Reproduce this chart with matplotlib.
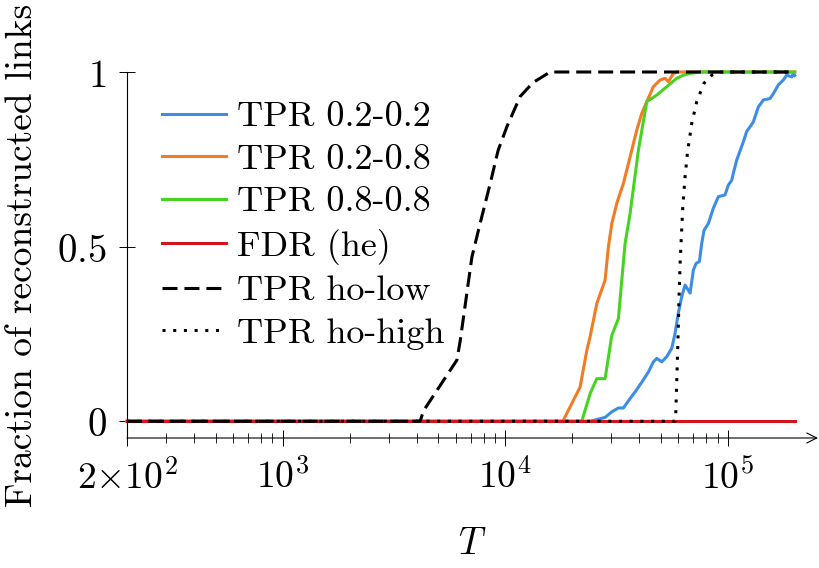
import matplotlib
matplotlib.use("Agg")
import matplotlib.pyplot as plt
from matplotlib.font_manager import FontProperties
from matplotlib.ticker import FixedLocator, NullFormatter

plt.rcParams['mathtext.fontset'] = 'cm'
plt.rcParams['axes.unicode_minus'] = False
plt.rcParams['axes.formatter.use_mathtext'] = True
plt.rcParams['lines.scale_dashes'] = False

# ---------------- data ----------------
t_blue = [200, 24080, 28120, 30140, 32270, 33980, 36420, 38350, 41110, 44010, 46330,
          47990, 50530, 53210, 56040, 57990, 59990, 62140, 64310, 67730, 70080, 72070,
          74560, 76430, 78260, 81810, 86160, 90740, 97250, 100600, 104200, 105950,
          109740, 117500, 121700, 125900, 130300, 132660, 137260, 144550, 154900,
          160300, 168720, 177700, 184000, 193900, 197000, 200000]
v_blue = [0, 0, 0.011, 0.027, 0.038, 0.038, 0.065, 0.084, 0.112, 0.141, 0.17,
          0.18, 0.17, 0.185, 0.209, 0.252, 0.31, 0.357, 0.39, 0.367, 0.433, 0.452,
          0.457, 0.51, 0.547, 0.566, 0.61, 0.643, 0.648, 0.676, 0.69, 0.71,
          0.748, 0.8, 0.83, 0.843, 0.857, 0.872, 0.9, 0.92, 0.924,
          0.938, 0.963, 0.977, 0.991, 0.986, 0.995, 0.99]

t_orange = [200, 18160, 19580, 21710, 23280, 24080, 25810, 28120, 29100, 30140, 31740,
            33980, 36420, 39030, 41110, 43280, 46330, 49660, 52290, 54100, 56980,
            59020, 200000]
v_orange = [0, 0, 0.041, 0.098, 0.203, 0.242, 0.337, 0.404, 0.5, 0.566, 0.624,
            0.681, 0.757, 0.834, 0.882, 0.915, 0.958, 0.977, 0.982, 0.972, 0.996,
            1.0, 1.0]

t_green = [200, 22100, 24080, 25810, 28120, 30140, 32270, 33420, 34580, 36420, 39680,
           43280, 47990, 53210, 59020, 63190, 67730, 75090, 200000]
v_green = [0, 0, 0.079, 0.122, 0.122, 0.246, 0.294, 0.404, 0.509, 0.595, 0.776,
           0.915, 0.934, 0.958, 0.982, 0.991, 0.996, 1.0, 1.0]

t_fdr = [200, 200000]
v_fdr = [0, 0]

t_low = [200, 4150, 4297, 6070, 6280, 7088, 7722, 8562, 9302, 10176, 11680, 13360,
         15925, 200000]
v_low = [0, 0, 0.03, 0.175, 0.23, 0.47, 0.567, 0.68, 0.776, 0.843, 0.93, 0.97,
         1.0, 1.0]

t_high = [200, 57990, 58420, 59020, 59640, 60430, 61080, 62810, 64310, 65860, 68920,
          72570, 78260, 84760, 92350, 200000]
v_high = [0, 0, 0.022, 0.117, 0.213, 0.356, 0.452, 0.614, 0.70, 0.767, 0.853,
          0.915, 0.968, 0.991, 1.0, 1.0]

labels = ["TPR 0.2-0.2", "TPR 0.2-0.8", "TPR 0.8-0.8", "FDR (he)",
          "TPR ho-low", "TPR ho-high"]
xtick_vals = [200, 1e3, 1e4, 1e5]
xtick_labels = [r"$2{\times}10^{2}$", r"$10^{3}$", r"$10^{4}$", r"$10^{5}$"]
xminor_vals = [300, 400, 500, 600, 700, 800, 900,
               2000, 3000, 4000, 5000, 6000, 7000, 8000, 9000,
               20000, 30000, 40000, 50000, 60000, 70000, 80000, 90000]
ytick_vals = [0, 0.5, 1]
ytick_labels = [r"$0$", r"$0.5$", r"$1$"]

# ---------------- figure ----------------
fig = plt.figure(figsize=(8.2, 5.68), dpi=100)
ax = fig.add_axes([127/820, 130/568, 691/820, 366/568])

lw = 2.2
ax.plot(t_blue, v_blue, color='#3d8de6', lw=lw, label=labels[0], clip_on=False)
ax.plot(t_orange, v_orange, color='#f27b23', lw=lw, label=labels[1], clip_on=False)
ax.plot(t_green, v_green, color='#47d420', lw=lw, label=labels[2], clip_on=False)
ax.plot(t_fdr, v_fdr, color='#d2151b', lw=lw, label=labels[3], clip_on=False)
ax.plot(t_low, v_low, color='black', lw=lw, dashes=(10.8, 5.0),
        dash_capstyle='butt', label=labels[4], clip_on=False)
ax.plot(t_high, v_high, color='black', lw=lw, dashes=(2.2, 5.5),
        dash_capstyle='butt', label=labels[5], clip_on=False)

ax.set_xscale('log')
ax.set_xlim(200, 254400)
ax.set_ylim(-0.048, 1.0)

ax.xaxis.set_major_locator(FixedLocator(xtick_vals))
ax.set_xticklabels(xtick_labels)
ax.xaxis.set_minor_locator(FixedLocator(xminor_vals))
ax.xaxis.set_minor_formatter(NullFormatter())
ax.set_yticks(ytick_vals)
ax.set_yticklabels(ytick_labels)

ax.tick_params(axis='x', which='major', direction='inout', length=11, width=0.7,
               labelsize=27, pad=10)
ax.tick_params(axis='x', which='minor', direction='inout', length=7.5, width=0.6)
ax.tick_params(axis='y', which='major', direction='inout', length=11, width=0.7,
               labelsize=28, pad=9)

for s in ['top', 'right', 'bottom']:
    ax.spines[s].set_visible(False)
ax.spines['left'].set_linewidth(0.8)
ax.annotate('', xy=(1.0, 0), xycoords='axes fraction', xytext=(0, 0),
            textcoords='axes fraction',
            arrowprops=dict(arrowstyle='->', lw=0.8, color='black',
                            shrinkA=0, shrinkB=0, mutation_scale=18))

cm = FontProperties(family='cmr10', size=27)
ax.set_ylabel("Fraction of reconstructed links", fontproperties=cm)
ax.yaxis.set_label_coords(-0.152, 0.5)
ax.yaxis.label.set_va('center')
ax.set_xlabel(r"$T$", fontsize=27)
ax.xaxis.set_label_coords(0.5, -0.29)
ax.xaxis.label.set_va('center')

leg = ax.legend(loc='upper left', bbox_to_anchor=(162/820, 467/568),
                bbox_transform=fig.transFigure, frameon=False,
                prop=FontProperties(family='cmr10', size=26),
                handlelength=1.77, handletextpad=0.3, labelspacing=0.285,
                borderpad=0, borderaxespad=0)

fig.savefig("out.png", dpi=100)
